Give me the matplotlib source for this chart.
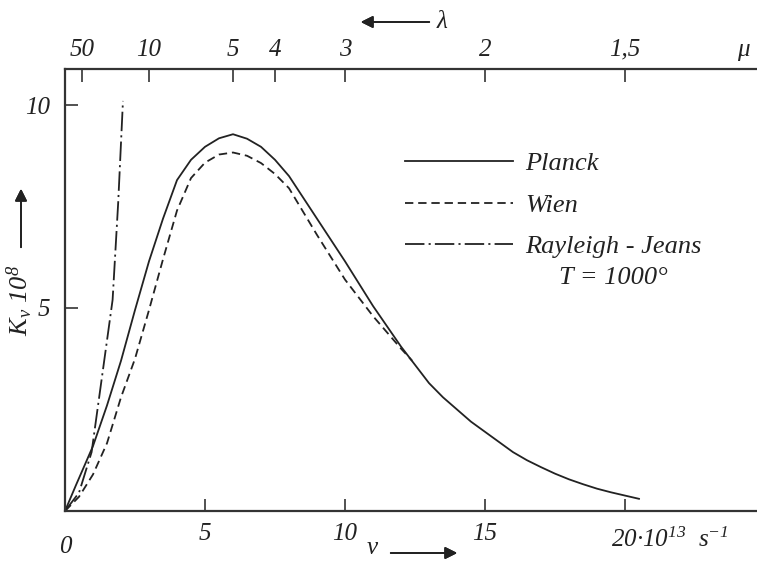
import matplotlib
matplotlib.use("Agg")
import matplotlib.pyplot as plt

# frequency in 10^13 s^-1, spectral density K_nu in 10^-8 units
planck_nu = [0, 0.4, 1.0, 1.5, 2.0, 2.5, 3.0, 3.5, 4.0, 4.5, 5.0, 5.5, 6.0, 6.5, 7.0, 7.5,
             8.0, 9.0, 10.0, 11.0, 12.0, 12.5, 13.0, 13.5, 14.0, 14.5, 15.0, 15.5, 16.0,
             16.5, 17.0, 17.5, 18.0, 18.5, 19.0, 19.5, 20.0, 20.5]
planck_k = [0, 0.65, 1.6, 2.6, 3.7, 4.95, 6.15, 7.2, 8.15, 8.65, 8.97, 9.18, 9.28, 9.17,
            8.97, 8.65, 8.25, 7.2, 6.15, 5.05, 4.05, 3.6, 3.15, 2.8, 2.5, 2.2, 1.95, 1.7,
            1.45, 1.25, 1.08, 0.92, 0.78, 0.66, 0.55, 0.46, 0.38, 0.30]

wien_nu = [0, 0.5, 1.0, 1.5, 2.0, 2.5, 3.0, 3.5, 4.0, 4.5, 5.0, 5.5, 6.0, 6.5, 7.0, 7.5,
           8.0, 9.0, 10.0, 11.0, 12.0, 12.4]
wien_k = [0, 0.35, 0.9, 1.67, 2.8, 3.75, 4.95, 6.2, 7.4, 8.2, 8.58, 8.78, 8.83, 8.75,
          8.57, 8.3, 7.95, 6.8, 5.7, 4.8, 4.0, 3.7]

rj_nu = [0, 0.5, 0.95, 1.3, 1.7, 1.9, 2.07]
rj_k = [0, 0.45, 1.45, 3.2, 5.2, 7.6, 10.1]

bottom_ticks = [5, 10, 15, 20]
left_ticks = [5, 10]
wavelengths = [50, 10, 5, 4, 3, 2, 1.5]
wl_labels = ["50", "10", "5", "4", "3", "2", "1,5"]

plt.rcParams["font.family"] = ["Liberation Serif", "DejaVu Serif"]
plt.rcParams["font.style"] = "italic"
plt.rcParams["mathtext.fontset"] = "custom"
plt.rcParams["mathtext.rm"] = "Liberation Serif"
plt.rcParams["mathtext.it"] = "Liberation Serif:italic"
plt.rcParams["lines.scale_dashes"] = False

ink = "#222222"
fs = 18
fs_leg = 19

fig = plt.figure(figsize=(7.57, 5.62), dpi=100)
ax = fig.add_axes([65 / 757, 1 - 511 / 562, 1 - 65 / 757, (511 - 69) / 562])

ax.plot(planck_nu, planck_k, color=ink, lw=1.3, label="Planck")
ax.plot(wien_nu, wien_k, color=ink, lw=1.3, dashes=(6, 3.5), label="Wien")
ax.plot(rj_nu, rj_k, color=ink, lw=1.3, dashes=(14, 3, 1.5, 3), label="Rayleigh - Jeans")

ax.set_xlim(0, (757 - 65) / 28)
ax.set_ylim(0, (511 - 69) / 40.6)

for s in ["left", "bottom", "top"]:
    ax.spines[s].set_linewidth(1.6)
    ax.spines[s].set_color("#333333")
ax.spines["right"].set_visible(False)

ax.set_xticks(bottom_ticks, ["5", "10", "15", ""])
ax.set_yticks(left_ticks, ["5", "10"])
ax.tick_params(axis="both", direction="in", length=9, width=1.2, color="#333333",
               labelsize=fs, labelcolor=ink)
ax.tick_params(axis="x", pad=9)
ax.tick_params(axis="y", pad=11)

# zero label and the unit after "20"
ax.text(0, -0.62, "0", ha="center", va="top", fontsize=fs, color=ink)
ax.annotate("20·10$^{13}$  s$^{-1}$", xy=(20, 0), xytext=(-10, -12),
            textcoords="offset points", ha="left", va="top", fontsize=fs, color=ink,
            annotation_clip=False)

top = ax.secondary_xaxis("top")
top.set_xticks([30 / w for w in wavelengths], wl_labels)
top.tick_params(direction="in", length=9, width=1.2, color="#333333",
                labelsize=fs, labelcolor=ink, pad=6)
top.spines["top"].set_visible(False)
fig.text(743 / 757, 1 - 50 / 562, "μ", ha="center", va="center", fontsize=fs, color=ink)

leg = ax.legend(loc="upper left", bbox_to_anchor=((405 - 65) / 692, (511 - 152) / 442),
                bbox_transform=ax.transAxes, frameon=False, fontsize=fs_leg,
                handlelength=4.1, handletextpad=0.45, labelspacing=0.68,
                borderaxespad=0, borderpad=0)
for t in leg.get_texts():
    t.set_color(ink)
fig.text(613 / 757, 1 - 278 / 562, "T = 1000°", ha="center", va="center",
         fontsize=fs_leg, color=ink)

# axis labels with arrows
arrow = dict(arrowstyle="-|>", color=ink, lw=1.3, mutation_scale=18)
fig.text(20 / 757, 1 - 300 / 562, "$\\mathrm{K}_\\nu$ 10$^{8}$", rotation=90, ha="center",
         va="center", fontsize=fs_leg, color=ink)
fig.add_artist(plt.annotate("", xy=(21 / 757, 1 - 186 / 562), xytext=(21 / 757, 1 - 250 / 562),
                            xycoords="figure fraction", arrowprops=arrow))
fig.text(372 / 757, 1 - 548 / 562, "ν", ha="center", va="center", fontsize=fs, color=ink)
fig.add_artist(plt.annotate("", xy=(460 / 757, 1 - 553 / 562), xytext=(388 / 757, 1 - 553 / 562),
                            xycoords="figure fraction", arrowprops=arrow))
fig.text(442 / 757, 1 - 22 / 562, "λ", ha="center", va="center", fontsize=fs, color=ink)
fig.add_artist(plt.annotate("", xy=(358 / 757, 1 - 22 / 562), xytext=(432 / 757, 1 - 22 / 562),
                            xycoords="figure fraction", arrowprops=arrow))

fig.savefig("out.png", dpi=100)
